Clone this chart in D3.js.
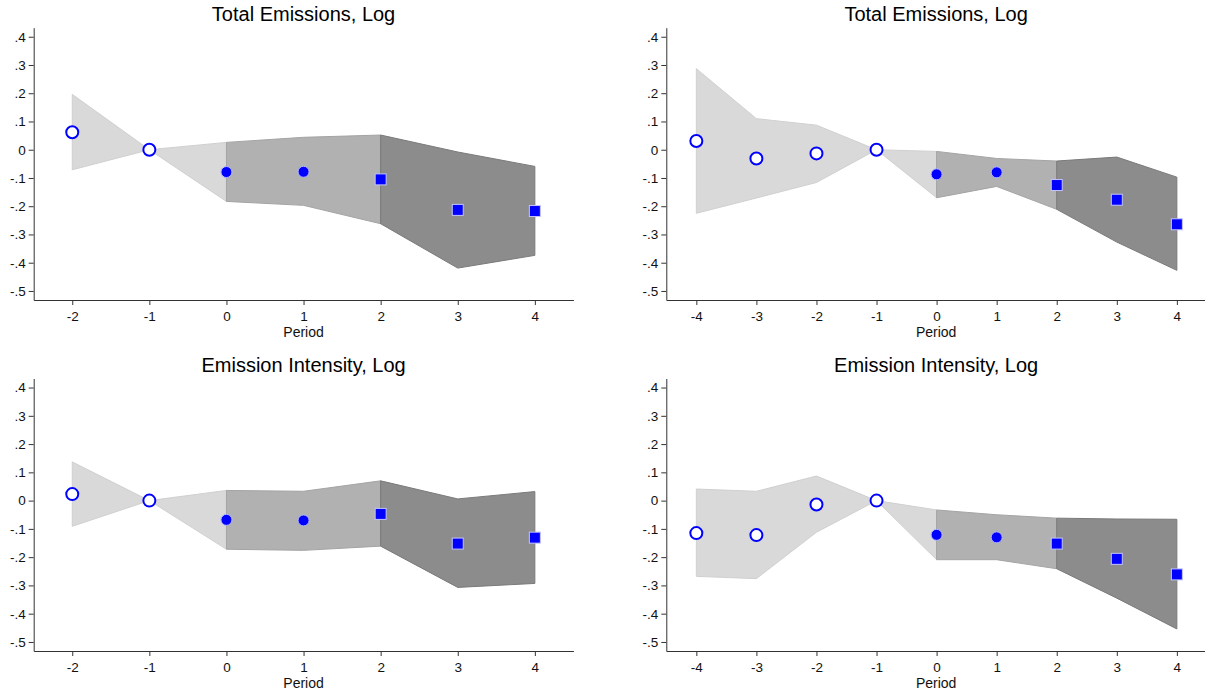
<!DOCTYPE html>
<html>
<head>
<meta charset="utf-8">
<script src="https://cdn.jsdelivr.net/npm/d3@7"></script>
<style>
    body { margin: 0; background: #fff; }
    svg { display: block; font-family: "Liberation Sans", Arial, sans-serif; }
    .tick text { font-size: 13.5px; fill: #111; }
    .tick line, .domain { stroke: #333; }
    .title { font-size: 20px; fill: #000; }
    .axis-title { font-size: 14px; fill: #111; }
</style>
</head>
<body>
<svg id="chart" width="1205" height="692"></svg>
<script>
// periods (event time)
const periodsShort = [-2, -1, 0, 1, 2, 3, 4];
const periodsLong = [-4, -3, -2, -1, 0, 1, 2, 3, 4];
const yTicks = [0.4, 0.3, 0.2, 0.1, 0, -0.1, -0.2, -0.3, -0.4, -0.5];

// total emissions, short window
const teShortCoef = [0.062, 0, -0.079, -0.078, -0.105, -0.213, -0.217];
const teShortLo = [-0.071, 0, -0.183, -0.197, -0.262, -0.419, -0.374];
const teShortHi = [0.196, 0, 0.026, 0.044, 0.052, -0.008, -0.059];

// total emissions, long window
const teLongCoef = [0.031, -0.031, -0.013, 0, -0.087, -0.080, -0.125, -0.177, -0.264];
const teLongLo = [-0.225, -0.171, -0.116, 0, -0.170, -0.130, -0.211, -0.327, -0.427];
const teLongHi = [0.287, 0.110, 0.087, 0, -0.006, -0.031, -0.040, -0.026, -0.097];

// emission intensity, short window
const eiShortCoef = [0.023, 0, -0.068, -0.070, -0.047, -0.152, -0.131];
const eiShortLo = [-0.091, 0, -0.172, -0.176, -0.161, -0.307, -0.293];
const eiShortHi = [0.137, 0, 0.036, 0.033, 0.070, 0.006, 0.032];

// emission intensity, long window
const eiLongCoef = [-0.115, -0.122, -0.014, 0, -0.121, -0.130, -0.152, -0.206, -0.261];
const eiLongLo = [-0.268, -0.276, -0.112, 0, -0.209, -0.209, -0.241, -0.345, -0.454];
const eiLongHi = [0.041, 0.033, 0.087, 0, -0.033, -0.050, -0.062, -0.065, -0.066];

// phase boundaries: pre-period / early post / late post
const phaseBreaks = [0, 2];

const svg = d3.select('#chart');

// stata style tick labels: .4, 0, -.1 (plain hyphen, not unicode minus)
const fmtTick = v => v === 0 ? '0' : d3.format('.1f')(v).replace('\u2212', '-').replace(/^(-?)0\./, '$1.');
const fmtPeriod = v => String(v);

function drawPanel(cfg) {
    const { title, periods, coef, lo, hi, left, right, xDomain, top, bottom } = cfg;

    const data = periods.map((p, i) => ({ p: p, c: coef[i], lo: lo[i], hi: hi[i] }));

    const xScale = d3.scaleLinear().domain(xDomain).range([left, right]);
    const yScale = d3.scaleLinear().domain([-0.532, 0.432]).range([bottom, top]);

    const g = svg.append('g');

    // confidence bands, one per phase
    const bands = [
        { rows: data.filter(d => d.p <= phaseBreaks[0]), fill: '#d9d9d9', stroke: '#d0d0d0' },
        { rows: data.filter(d => d.p >= phaseBreaks[0] && d.p <= phaseBreaks[1]), fill: '#b1b1b1', stroke: '#a4a4a4' },
        { rows: data.filter(d => d.p >= phaseBreaks[1]), fill: '#8c8c8c', stroke: '#7a7a7a' }
    ];

    const area = d3.area()
        .x(d => xScale(d.p))
        .y0(d => yScale(d.lo))
        .y1(d => yScale(d.hi));

    g.selectAll('path.band')
        .data(bands)
        .join('path')
        .attr('class', 'band')
        .attr('d', b => area(b.rows))
        .attr('fill', b => b.fill)
        .attr('stroke', b => b.stroke)
        .attr('stroke-width', 1);

    // axes
    const yAxis = d3.axisLeft(yScale)
        .tickValues(yTicks)
        .tickFormat(fmtTick)
        .tickSize(5)
        .tickSizeOuter(0)
        .tickPadding(3);

    const xAxis = d3.axisBottom(xScale)
        .tickValues(periods)
        .tickFormat(fmtPeriod)
        .tickSize(5)
        .tickSizeOuter(0)
        .tickPadding(6);

    g.append('g')
        .attr('transform', `translate(${left},0)`)
        .call(yAxis)
        .call(a => a.select('.domain').attr('stroke', '#333'));

    g.append('g')
        .attr('transform', `translate(0,${bottom})`)
        .call(xAxis)
        .call(a => a.select('.domain').attr('stroke', '#333'));

    g.selectAll('.tick text').attr('font-family', null).attr('font-size', null);

    // markers
    const pre = data.filter(d => d.p < phaseBreaks[0]);
    const early = data.filter(d => d.p >= phaseBreaks[0] && d.p < phaseBreaks[1]);
    const late = data.filter(d => d.p >= phaseBreaks[1]);

    g.selectAll('circle.pre')
        .data(pre)
        .join('circle')
        .attr('class', 'pre')
        .attr('cx', d => xScale(d.p))
        .attr('cy', d => yScale(d.c))
        .attr('r', 6)
        .attr('fill', '#fff')
        .attr('stroke', '#0000ff')
        .attr('stroke-width', 2);

    g.selectAll('circle.early')
        .data(early)
        .join('circle')
        .attr('class', 'early')
        .attr('cx', d => xScale(d.p))
        .attr('cy', d => yScale(d.c))
        .attr('r', 5.5)
        .attr('fill', '#0000ff')
        .attr('stroke', '#b8b8ff')
        .attr('stroke-width', 1);

    const side = 11;
    g.selectAll('rect.late')
        .data(late)
        .join('rect')
        .attr('class', 'late')
        .attr('x', d => xScale(d.p) - side / 2)
        .attr('y', d => yScale(d.c) - side / 2)
        .attr('width', side)
        .attr('height', side)
        .attr('fill', '#0000ff')
        .attr('stroke', '#c4c4ff')
        .attr('stroke-width', 1);

    // titles
    const cx = (left + Math.min(right, 1206)) / 2;
    g.append('text')
        .attr('class', 'title')
        .attr('x', cx)
        .attr('y', top - 7)
        .attr('text-anchor', 'middle')
        .text(title);

    g.append('text')
        .attr('class', 'axis-title')
        .attr('x', cx)
        .attr('y', bottom + 37)
        .attr('text-anchor', 'middle')
        .text('Period');
}

const shortX = { periods: periodsShort, left: 33.7, right: 573.4, xDomain: [-2.5, 4.5] };
const longX = { periods: periodsLong, left: 666.3, right: 1206.9, xDomain: [-4.5, 4.5] };
const topRow = { top: 27.7, bottom: 300 };
const bottomRow = { top: 378.5, bottom: 651 };

drawPanel({ ...shortX, ...topRow, title: 'Total Emissions, Log', coef: teShortCoef, lo: teShortLo, hi: teShortHi });
drawPanel({ ...longX, ...topRow, title: 'Total Emissions, Log', coef: teLongCoef, lo: teLongLo, hi: teLongHi });
drawPanel({ ...shortX, ...bottomRow, title: 'Emission Intensity, Log', coef: eiShortCoef, lo: eiShortLo, hi: eiShortHi });
drawPanel({ ...longX, ...bottomRow, title: 'Emission Intensity, Log', coef: eiLongCoef, lo: eiLongLo, hi: eiLongHi });
</script>
</body>
</html>
